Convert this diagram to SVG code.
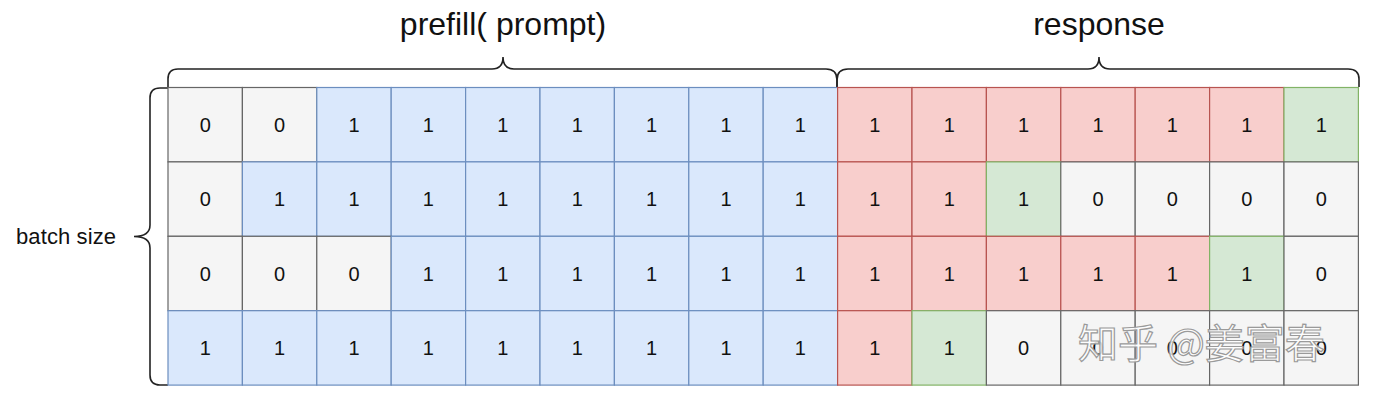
<svg xmlns="http://www.w3.org/2000/svg" width="1386" height="420" viewBox="0 0 1386 420">
<style>
.g{fill:#f5f5f5;stroke:#666666;stroke-width:1.2}
.b{fill:#dae8fc;stroke:#6c8ebf;stroke-width:1.2}
.r{fill:#f8cecc;stroke:#b85450;stroke-width:1.2}
.n{fill:#d5e8d4;stroke:#82b366;stroke-width:1.2}
.t{font-family:"Liberation Sans",Arial,sans-serif;font-size:20px;fill:#111;text-anchor:middle;dominant-baseline:central}
.h{font-family:"Liberation Sans",Arial,sans-serif;font-size:32px;fill:#111;text-anchor:middle}
.brace{fill:none;stroke:#222;stroke-width:1.6}
</style>
<rect width="1386" height="420" fill="#ffffff"/>
<text class="h" x="503" y="35">prefill( prompt)</text>
<text class="h" x="1099" y="35">response</text>
<text x="16" y="244" font-family="&quot;Liberation Sans&quot;,Arial,sans-serif" font-size="22" fill="#111" textLength="100">batch size</text>
<g id="connectors">
<path class="brace" d="M168,87 L168,79 Q168,69 178,69 L492,69 Q503,69 503,57 Q503,69 514,69 L826,69 Q837,69 837,80 L837,87"/>
<path class="brace" d="M837,87 L837,80 Q837,69 848,69 L1088,69 Q1099,69 1099,57 Q1099,69 1110,69 L1348,69 Q1359,69 1359,79 L1359,87"/>
<path class="brace" d="M168,88 L160,88 Q150,88 150,98 L150,225 Q150,236.5 134,236.5 Q150,236.5 150,248 L150,375 Q150,385 160,385 L168,385"/>
</g>
<g id="row0">
<g id="c0-0"><rect class="g" x="168" y="87.5" width="74.4" height="74.4"/><text class="t" x="205.2" y="124.7">0</text></g>
<g id="c0-1"><rect class="g" x="242.4" y="87.5" width="74.4" height="74.4"/><text class="t" x="279.6" y="124.7">0</text></g>
<g id="c0-2"><rect class="b" x="316.8" y="87.5" width="74.4" height="74.4"/><text class="t" x="354" y="124.7">1</text></g>
<g id="c0-3"><rect class="b" x="391.2" y="87.5" width="74.4" height="74.4"/><text class="t" x="428.4" y="124.7">1</text></g>
<g id="c0-4"><rect class="b" x="465.6" y="87.5" width="74.4" height="74.4"/><text class="t" x="502.8" y="124.7">1</text></g>
<g id="c0-5"><rect class="b" x="540" y="87.5" width="74.4" height="74.4"/><text class="t" x="577.2" y="124.7">1</text></g>
<g id="c0-6"><rect class="b" x="614.4" y="87.5" width="74.4" height="74.4"/><text class="t" x="651.6" y="124.7">1</text></g>
<g id="c0-7"><rect class="b" x="688.8" y="87.5" width="74.4" height="74.4"/><text class="t" x="726" y="124.7">1</text></g>
<g id="c0-8"><rect class="b" x="763.2" y="87.5" width="74.4" height="74.4"/><text class="t" x="800.4" y="124.7">1</text></g>
<g id="c0-9"><rect class="r" x="837.6" y="87.5" width="74.4" height="74.4"/><text class="t" x="874.8" y="124.7">1</text></g>
<g id="c0-10"><rect class="r" x="912" y="87.5" width="74.4" height="74.4"/><text class="t" x="949.2" y="124.7">1</text></g>
<g id="c0-11"><rect class="r" x="986.4" y="87.5" width="74.4" height="74.4"/><text class="t" x="1023.6" y="124.7">1</text></g>
<g id="c0-12"><rect class="r" x="1060.8" y="87.5" width="74.4" height="74.4"/><text class="t" x="1098" y="124.7">1</text></g>
<g id="c0-13"><rect class="r" x="1135.2" y="87.5" width="74.4" height="74.4"/><text class="t" x="1172.4" y="124.7">1</text></g>
<g id="c0-14"><rect class="r" x="1209.6" y="87.5" width="74.4" height="74.4"/><text class="t" x="1246.8" y="124.7">1</text></g>
<g id="c0-15"><rect class="n" x="1284" y="87.5" width="74.4" height="74.4"/><text class="t" x="1321.2" y="124.7">1</text></g>
</g>
<g id="row1">
<g id="c1-0"><rect class="g" x="168" y="161.9" width="74.4" height="74.4"/><text class="t" x="205.2" y="199.1">0</text></g>
<g id="c1-1"><rect class="b" x="242.4" y="161.9" width="74.4" height="74.4"/><text class="t" x="279.6" y="199.1">1</text></g>
<g id="c1-2"><rect class="b" x="316.8" y="161.9" width="74.4" height="74.4"/><text class="t" x="354" y="199.1">1</text></g>
<g id="c1-3"><rect class="b" x="391.2" y="161.9" width="74.4" height="74.4"/><text class="t" x="428.4" y="199.1">1</text></g>
<g id="c1-4"><rect class="b" x="465.6" y="161.9" width="74.4" height="74.4"/><text class="t" x="502.8" y="199.1">1</text></g>
<g id="c1-5"><rect class="b" x="540" y="161.9" width="74.4" height="74.4"/><text class="t" x="577.2" y="199.1">1</text></g>
<g id="c1-6"><rect class="b" x="614.4" y="161.9" width="74.4" height="74.4"/><text class="t" x="651.6" y="199.1">1</text></g>
<g id="c1-7"><rect class="b" x="688.8" y="161.9" width="74.4" height="74.4"/><text class="t" x="726" y="199.1">1</text></g>
<g id="c1-8"><rect class="b" x="763.2" y="161.9" width="74.4" height="74.4"/><text class="t" x="800.4" y="199.1">1</text></g>
<g id="c1-9"><rect class="r" x="837.6" y="161.9" width="74.4" height="74.4"/><text class="t" x="874.8" y="199.1">1</text></g>
<g id="c1-10"><rect class="r" x="912" y="161.9" width="74.4" height="74.4"/><text class="t" x="949.2" y="199.1">1</text></g>
<g id="c1-11"><rect class="n" x="986.4" y="161.9" width="74.4" height="74.4"/><text class="t" x="1023.6" y="199.1">1</text></g>
<g id="c1-12"><rect class="g" x="1060.8" y="161.9" width="74.4" height="74.4"/><text class="t" x="1098" y="199.1">0</text></g>
<g id="c1-13"><rect class="g" x="1135.2" y="161.9" width="74.4" height="74.4"/><text class="t" x="1172.4" y="199.1">0</text></g>
<g id="c1-14"><rect class="g" x="1209.6" y="161.9" width="74.4" height="74.4"/><text class="t" x="1246.8" y="199.1">0</text></g>
<g id="c1-15"><rect class="g" x="1284" y="161.9" width="74.4" height="74.4"/><text class="t" x="1321.2" y="199.1">0</text></g>
</g>
<g id="row2">
<g id="c2-0"><rect class="g" x="168" y="236.3" width="74.4" height="74.4"/><text class="t" x="205.2" y="273.5">0</text></g>
<g id="c2-1"><rect class="g" x="242.4" y="236.3" width="74.4" height="74.4"/><text class="t" x="279.6" y="273.5">0</text></g>
<g id="c2-2"><rect class="g" x="316.8" y="236.3" width="74.4" height="74.4"/><text class="t" x="354" y="273.5">0</text></g>
<g id="c2-3"><rect class="b" x="391.2" y="236.3" width="74.4" height="74.4"/><text class="t" x="428.4" y="273.5">1</text></g>
<g id="c2-4"><rect class="b" x="465.6" y="236.3" width="74.4" height="74.4"/><text class="t" x="502.8" y="273.5">1</text></g>
<g id="c2-5"><rect class="b" x="540" y="236.3" width="74.4" height="74.4"/><text class="t" x="577.2" y="273.5">1</text></g>
<g id="c2-6"><rect class="b" x="614.4" y="236.3" width="74.4" height="74.4"/><text class="t" x="651.6" y="273.5">1</text></g>
<g id="c2-7"><rect class="b" x="688.8" y="236.3" width="74.4" height="74.4"/><text class="t" x="726" y="273.5">1</text></g>
<g id="c2-8"><rect class="b" x="763.2" y="236.3" width="74.4" height="74.4"/><text class="t" x="800.4" y="273.5">1</text></g>
<g id="c2-9"><rect class="r" x="837.6" y="236.3" width="74.4" height="74.4"/><text class="t" x="874.8" y="273.5">1</text></g>
<g id="c2-10"><rect class="r" x="912" y="236.3" width="74.4" height="74.4"/><text class="t" x="949.2" y="273.5">1</text></g>
<g id="c2-11"><rect class="r" x="986.4" y="236.3" width="74.4" height="74.4"/><text class="t" x="1023.6" y="273.5">1</text></g>
<g id="c2-12"><rect class="r" x="1060.8" y="236.3" width="74.4" height="74.4"/><text class="t" x="1098" y="273.5">1</text></g>
<g id="c2-13"><rect class="r" x="1135.2" y="236.3" width="74.4" height="74.4"/><text class="t" x="1172.4" y="273.5">1</text></g>
<g id="c2-14"><rect class="n" x="1209.6" y="236.3" width="74.4" height="74.4"/><text class="t" x="1246.8" y="273.5">1</text></g>
<g id="c2-15"><rect class="g" x="1284" y="236.3" width="74.4" height="74.4"/><text class="t" x="1321.2" y="273.5">0</text></g>
</g>
<g id="row3">
<g id="c3-0"><rect class="b" x="168" y="310.7" width="74.4" height="74.4"/><text class="t" x="205.2" y="347.9">1</text></g>
<g id="c3-1"><rect class="b" x="242.4" y="310.7" width="74.4" height="74.4"/><text class="t" x="279.6" y="347.9">1</text></g>
<g id="c3-2"><rect class="b" x="316.8" y="310.7" width="74.4" height="74.4"/><text class="t" x="354" y="347.9">1</text></g>
<g id="c3-3"><rect class="b" x="391.2" y="310.7" width="74.4" height="74.4"/><text class="t" x="428.4" y="347.9">1</text></g>
<g id="c3-4"><rect class="b" x="465.6" y="310.7" width="74.4" height="74.4"/><text class="t" x="502.8" y="347.9">1</text></g>
<g id="c3-5"><rect class="b" x="540" y="310.7" width="74.4" height="74.4"/><text class="t" x="577.2" y="347.9">1</text></g>
<g id="c3-6"><rect class="b" x="614.4" y="310.7" width="74.4" height="74.4"/><text class="t" x="651.6" y="347.9">1</text></g>
<g id="c3-7"><rect class="b" x="688.8" y="310.7" width="74.4" height="74.4"/><text class="t" x="726" y="347.9">1</text></g>
<g id="c3-8"><rect class="b" x="763.2" y="310.7" width="74.4" height="74.4"/><text class="t" x="800.4" y="347.9">1</text></g>
<g id="c3-9"><rect class="r" x="837.6" y="310.7" width="74.4" height="74.4"/><text class="t" x="874.8" y="347.9">1</text></g>
<g id="c3-10"><rect class="n" x="912" y="310.7" width="74.4" height="74.4"/><text class="t" x="949.2" y="347.9">1</text></g>
<g id="c3-11"><rect class="g" x="986.4" y="310.7" width="74.4" height="74.4"/><text class="t" x="1023.6" y="347.9">0</text></g>
<g id="c3-12"><rect class="g" x="1060.8" y="310.7" width="74.4" height="74.4"/><text class="t" x="1098" y="347.9">0</text></g>
<g id="c3-13"><rect class="g" x="1135.2" y="310.7" width="74.4" height="74.4"/><text class="t" x="1172.4" y="347.9">0</text></g>
<g id="c3-14"><rect class="g" x="1209.6" y="310.7" width="74.4" height="74.4"/><text class="t" x="1246.8" y="347.9">0</text></g>
<g id="c3-15"><rect class="g" x="1284" y="310.7" width="74.4" height="74.4"/><text class="t" x="1321.2" y="347.9">0</text></g>
</g>
<g id="watermark">
<text x="1078" y="358" font-family="&quot;Noto Sans CJK SC&quot;,sans-serif" font-size="40" fill="#ffffff" fill-opacity="0.85" stroke="#9a9a9a" stroke-width="1.2">知乎 @姜富春</text>
</g>
</svg>
